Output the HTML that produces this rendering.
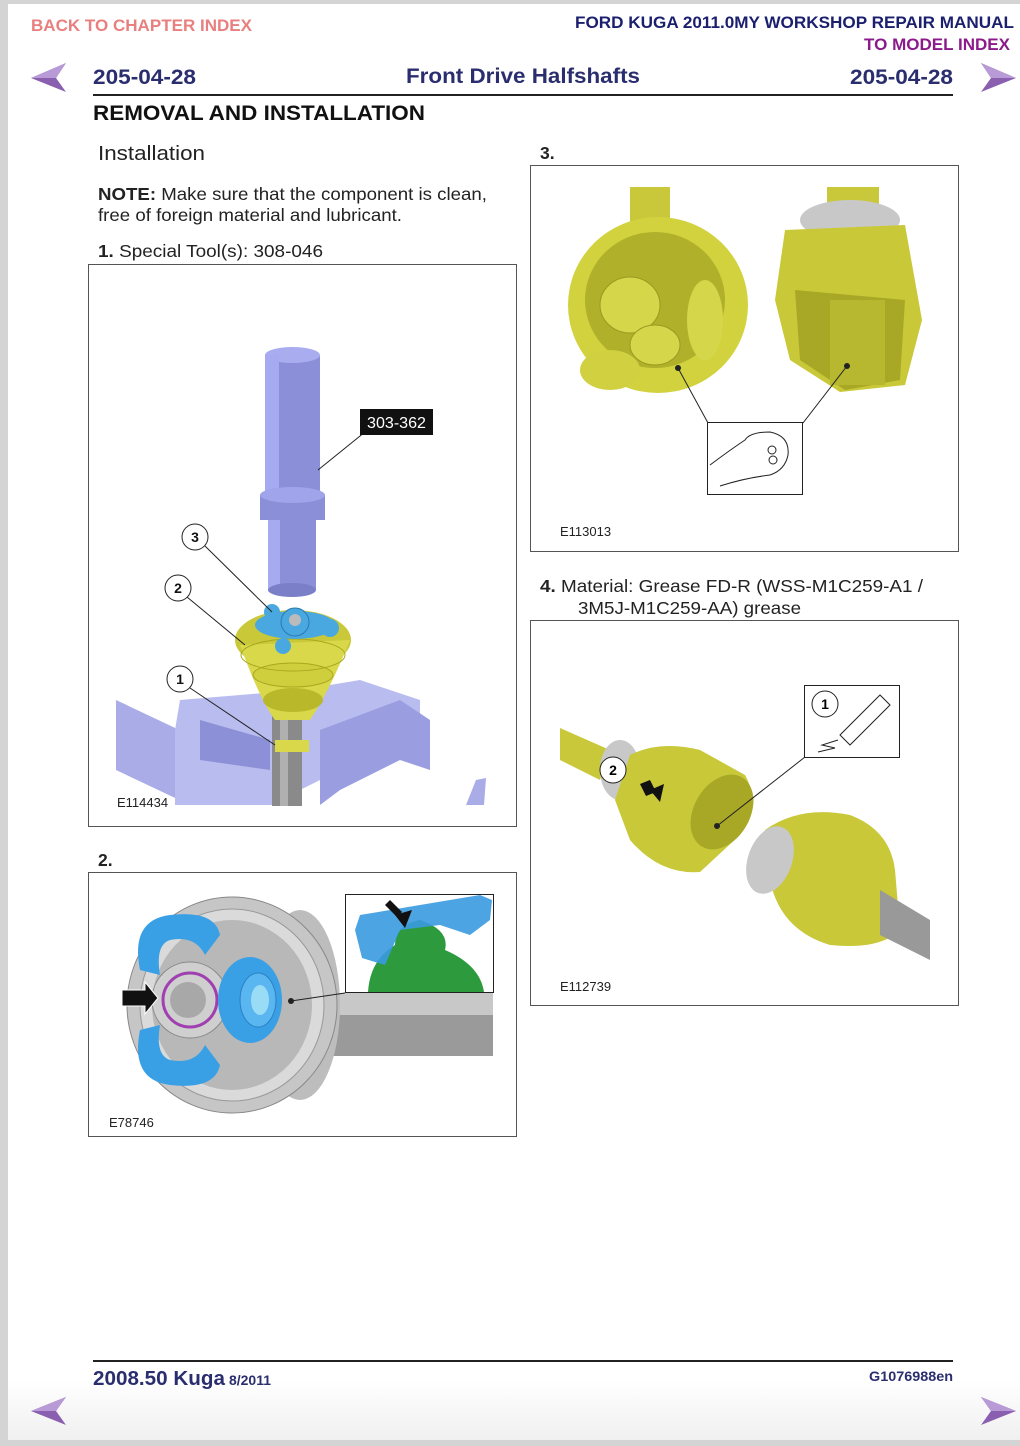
<!DOCTYPE html>
<html><head><meta charset="utf-8"><style>
html,body{margin:0;padding:0;background:#fff;}
svg{display:block}
text{font-family:"Liberation Sans",sans-serif;}
</style></head><body>
<svg width="1020" height="1446" viewBox="0 0 1020 1446" xmlns="http://www.w3.org/2000/svg">
<rect x="0" y="0" width="1020" height="1446" fill="#d4d4d4"/>
<rect x="8" y="4" width="1012" height="1436" fill="#fff"/>
<defs>
<linearGradient id="fade" x1="0" y1="0" x2="0" y2="1"><stop offset="0" stop-color="#fff"/><stop offset="1" stop-color="#f0f0f0"/></linearGradient>
</defs>
<rect x="8" y="1380" width="1012" height="60" fill="url(#fade)"/>

<!-- header -->
<text x="31" y="31" font-size="17" font-weight="bold" fill="#e8807f" textLength="221" lengthAdjust="spacingAndGlyphs">BACK TO CHAPTER INDEX</text>
<text x="575" y="28" font-size="17" font-weight="bold" fill="#1a1f6e" textLength="439" lengthAdjust="spacingAndGlyphs">FORD KUGA 2011.0MY WORKSHOP REPAIR MANUAL</text>
<text x="864" y="50" font-size="17" font-weight="bold" fill="#8b1a8b" textLength="146" lengthAdjust="spacingAndGlyphs">TO MODEL INDEX</text>

<polygon points="31,78 66,63 56,78 66,92" fill="#8a5fb0"/>
<polygon points="31,78 56,78 66,63" fill="#b89ad6"/>
<polygon points="1016,78 981,63 991,78 981,92" fill="#8a5fb0"/>
<polygon points="981,63 991,78 1016,78" fill="#b89ad6"/>

<text x="93" y="84" font-size="21" font-weight="bold" fill="#2a2e6e" textLength="103" lengthAdjust="spacingAndGlyphs">205-04-28</text>
<text x="406" y="83" font-size="21" font-weight="bold" fill="#2a2e6e" textLength="234" lengthAdjust="spacingAndGlyphs">Front Drive Halfshafts</text>
<text x="850" y="84" font-size="21" font-weight="bold" fill="#2a2e6e" textLength="103" lengthAdjust="spacingAndGlyphs">205-04-28</text>
<rect x="93" y="94" width="860" height="2" fill="#222"/>
<text x="93" y="120" font-size="21" font-weight="bold" fill="#111" textLength="332" lengthAdjust="spacingAndGlyphs">REMOVAL AND INSTALLATION</text>

<!-- left column text -->
<text x="98" y="160" font-size="20" fill="#222" textLength="107" lengthAdjust="spacingAndGlyphs">Installation</text>
<text x="98" y="200" font-size="17.5" fill="#222" textLength="389" lengthAdjust="spacingAndGlyphs"><tspan font-weight="bold">NOTE:</tspan> Make sure that the component is clean,</text>
<text x="98" y="221" font-size="17.5" fill="#222" textLength="304" lengthAdjust="spacingAndGlyphs">free of foreign material and lubricant.</text>
<text x="98" y="257" font-size="17.5" fill="#222" textLength="225" lengthAdjust="spacingAndGlyphs"><tspan font-weight="bold">1.</tspan> Special Tool(s): 308-046</text>

<!-- Box 1 -->
<rect x="88.5" y="264.5" width="428" height="562" fill="#fff" stroke="#555" stroke-width="1"/>
<!-- vise -->
<polygon points="116,700 190,735 190,805 116,770" fill="#a9ace6"/>
<polygon points="180,700 300,690 360,680 420,700 420,740 360,760 300,790 300,805 175,805 175,730" fill="#b9bcef"/>
<polygon points="200,720 270,740 270,770 200,760" fill="#8c90d6"/>
<polygon points="320,730 400,700 430,720 430,770 400,760 340,790 320,805" fill="#9a9ee0"/>
<polygon points="430,720 480,740 480,805 430,805" fill="#fff"/>
<polygon points="466,805 476,780 486,778 484,805" fill="#a9ace6"/>
<!-- shaft -->
<rect x="272" y="650" width="30" height="156" fill="#8a8a8a"/>
<rect x="280" y="650" width="8" height="156" fill="#b0b0b0"/>
<!-- boot -->
<ellipse cx="293" cy="640" rx="58" ry="30" fill="#c9c838"/>
<path d="M240,645 Q260,700 275,720 L310,720 Q330,690 350,640 Z" fill="#d8d84a"/>
<ellipse cx="293" cy="700" rx="30" ry="12" fill="#b8b82a"/>
<ellipse cx="293" cy="675" rx="40" ry="12" fill="#cfcf3e" stroke="#a8a820"/>
<ellipse cx="293" cy="655" rx="52" ry="16" fill="none" stroke="#a8a820"/>
<rect x="275" y="740" width="34" height="12" fill="#d8d84a"/>
<!-- tripod -->
<ellipse cx="295" cy="625" rx="40" ry="14" fill="#4aa8e0"/>
<circle cx="295" cy="622" r="14" fill="#4aa8e0" stroke="#2a7ab0"/>
<circle cx="295" cy="620" r="6" fill="#bbb"/>
<circle cx="272" cy="612" r="8" fill="#4aa8e0"/>
<circle cx="330" cy="628" r="9" fill="#4aa8e0"/>
<circle cx="283" cy="646" r="8" fill="#4aa8e0"/>
<!-- tool pin -->
<rect x="265" y="355" width="55" height="140" fill="#8a8fd8"/>
<ellipse cx="292.5" cy="355" rx="27.5" ry="8" fill="#a9adf0"/>
<rect x="265" y="355" width="14" height="140" fill="#a6aaf0"/>
<rect x="260" y="495" width="65" height="25" fill="#8a8fd8"/>
<ellipse cx="292.5" cy="495" rx="32.5" ry="8" fill="#a0a4ea"/>
<rect x="268" y="520" width="48" height="70" fill="#8a8fd8"/>
<rect x="268" y="520" width="12" height="70" fill="#a6aaf0"/>
<ellipse cx="292" cy="590" rx="24" ry="7" fill="#7a7fc8"/>
<!-- label -->
<line x1="318" y1="470" x2="365" y2="432" stroke="#222"/>
<rect x="360" y="409" width="73" height="26" fill="#111"/>
<text x="367" y="428" font-size="16" fill="#fff" textLength="59" lengthAdjust="spacingAndGlyphs">303-362</text>
<g stroke="#222" fill="#fff">
<line x1="205" y1="546" x2="272" y2="612"/>
<line x1="187" y1="597" x2="245" y2="645"/>
<line x1="190" y1="688" x2="275" y2="745"/>
<circle cx="195" cy="537" r="13"/>
<circle cx="178" cy="588" r="13"/>
<circle cx="180" cy="679" r="13"/>
</g>
<g font-size="14" font-weight="bold" fill="#111" text-anchor="middle">
<text x="195" y="542">3</text><text x="178" y="593">2</text><text x="180" y="684">1</text>
</g>
<text x="117" y="807" font-size="13" fill="#222">E114434</text>

<!-- Box 2 -->
<text x="98" y="866" font-size="17.5" font-weight="bold" fill="#222">2.</text>
<rect x="88.5" y="872.5" width="428" height="264" fill="#fff" stroke="#555" stroke-width="1"/>
<rect x="300" y="993" width="193" height="63" fill="#9a9a9a"/>
<rect x="300" y="993" width="193" height="22" fill="#c8c8c8"/>
<ellipse cx="300" cy="1005" rx="40" ry="95" fill="#bdbdbd"/>
<ellipse cx="232" cy="1005" rx="105" ry="108" fill="#c6c6c6" stroke="#888"/>
<ellipse cx="232" cy="1005" rx="92" ry="96" fill="#dadada" stroke="#999"/>
<ellipse cx="232" cy="1005" rx="80" ry="85" fill="#b8b8b8"/>
<circle cx="190" cy="1000" r="38" fill="#cfcfcf" stroke="#888"/>
<circle cx="190" cy="1000" r="27" fill="none" stroke="#a040b0" stroke-width="3"/>
<circle cx="188" cy="1000" r="18" fill="#a8a8a8"/>
<path d="M140,970 Q130,920 170,915 Q215,910 220,935 L205,955 Q195,935 170,940 Q155,945 160,975 Z" fill="#3aa0e6"/>
<path d="M140,1030 Q130,1080 170,1085 Q215,1090 220,1065 L205,1045 Q195,1065 170,1060 Q155,1055 160,1025 Z" fill="#3aa0e6"/>
<ellipse cx="250" cy="1000" rx="32" ry="43" fill="#3aa0e6"/>
<ellipse cx="258" cy="1000" rx="18" ry="27" fill="#5ab6f0" stroke="#2a80c0"/>
<ellipse cx="260" cy="1000" rx="9" ry="15" fill="#9adcf6"/>
<polygon points="122,990 145,990 145,982 158,998 145,1014 145,1006 122,1006" fill="#111" stroke="#fff"/>
<line x1="291" y1="1001" x2="345" y2="993" stroke="#222"/>
<circle cx="291" cy="1001" r="3" fill="#222"/>
<rect x="345.5" y="894.5" width="148" height="98" fill="#fff" stroke="#222"/>
<path d="M368,992 Q370,960 395,945 Q395,925 420,920 Q450,930 445,950 Q480,965 484,992 Z" fill="#2e9a3e"/>
<path d="M355,930 L360,915 L480,895 L492,900 L490,920 L470,935 L440,925 L400,930 L385,965 L362,958 Z" fill="#3a9ae0" opacity="0.9"/>
<polygon points="385,905 390,900 402,912 397,917" fill="#111"/>
<polygon points="395,915 412,910 405,928" fill="#111"/>
<text x="109" y="1127" font-size="13" fill="#222">E78746</text>

<!-- Box 3 -->
<text x="540" y="159" font-size="17.5" font-weight="bold" fill="#222">3.</text>
<rect x="530.5" y="165.5" width="428" height="386" fill="#fff" stroke="#555" stroke-width="1"/>
<rect x="630" y="187" width="40" height="50" fill="#c8c83a"/>
<ellipse cx="658" cy="305" rx="90" ry="88" fill="#d2d23e"/>
<ellipse cx="655" cy="300" rx="70" ry="68" fill="#b0b02a"/>
<ellipse cx="630" cy="305" rx="30" ry="28" fill="#d6d64a" stroke="#9a9a20"/>
<ellipse cx="655" cy="345" rx="25" ry="20" fill="#d6d64a" stroke="#9a9a20"/>
<ellipse cx="705" cy="320" rx="18" ry="40" fill="#d6d64a"/>
<ellipse cx="610" cy="370" rx="30" ry="20" fill="#d0d040"/>
<rect x="827" y="187" width="52" height="25" fill="#c8c83a"/>
<ellipse cx="850" cy="220" rx="50" ry="20" fill="#c8c8c8"/>
<path d="M785,230 L905,225 L922,320 L905,385 L840,392 L790,360 L775,300 Z" fill="#c8c838"/>
<path d="M795,290 L905,300 L900,380 L845,390 L800,360 Z" fill="#a8a826"/>
<rect x="830" y="300" width="55" height="85" fill="#b8b830"/>
<g stroke="#222" fill="none">
<line x1="678" y1="368" x2="708" y2="423"/>
<line x1="847" y1="366" x2="803" y2="423"/>
</g>
<circle cx="678" cy="368" r="3" fill="#222"/><circle cx="847" cy="366" r="3" fill="#222"/>
<rect x="707.5" y="422.5" width="95" height="72" fill="#fff" stroke="#222"/>
<path d="M710,465 Q730,450 745,440 Q750,432 770,432 Q790,436 788,455 Q785,470 770,475 Q745,478 720,486" fill="none" stroke="#222"/>
<circle cx="772" cy="450" r="4" fill="none" stroke="#222"/><circle cx="773" cy="460" r="4" fill="none" stroke="#222"/>
<text x="560" y="536" font-size="13" fill="#222">E113013</text>

<!-- Box 4 -->
<text x="540" y="592" font-size="17.5" fill="#222" textLength="383" lengthAdjust="spacingAndGlyphs"><tspan font-weight="bold">4.</tspan> Material: Grease FD-R (WSS-M1C259-A1 /</text>
<text x="578" y="614" font-size="17.5" fill="#222" textLength="223" lengthAdjust="spacingAndGlyphs">3M5J-M1C259-AA) grease</text>
<rect x="530.5" y="620.5" width="428" height="385" fill="#fff" stroke="#555" stroke-width="1"/>
<polygon points="560,728 610,750 600,780 560,760" fill="#c8c83a"/>
<ellipse cx="620" cy="770" rx="20" ry="30" fill="#c8c8c8"/>
<path d="M630,755 Q660,740 700,750 L745,775 Q760,800 740,835 L700,872 Q660,875 630,840 L615,800 Z" fill="#c8c838"/>
<ellipse cx="722" cy="812" rx="28" ry="40" fill="#a8a826" transform="rotate(30 722 812)"/>
<path d="M765,830 Q800,805 850,815 Q890,830 895,870 L900,930 Q880,950 830,945 Q780,930 770,880 Z" fill="#c8c838"/>
<ellipse cx="770" cy="860" rx="22" ry="35" fill="#c8c8c8" transform="rotate(20 770 860)"/>
<polygon points="880,890 930,920 930,960 880,935" fill="#999"/>
<polygon points="640,784 650,780 656,792 646,796" fill="#111"/>
<polygon points="650,790 664,784 660,802" fill="#111"/>
<line x1="717" y1="826" x2="805" y2="757" stroke="#222"/>
<circle cx="717" cy="826" r="3" fill="#222"/>
<rect x="804.5" y="685.5" width="95" height="72" fill="#fff" stroke="#222"/>
<path d="M840,735 L880,695 L890,705 L850,745 Z" fill="none" stroke="#222"/>
<path d="M818,752 L835,748 L822,745 L838,740" fill="none" stroke="#222"/>
<circle cx="825" cy="704" r="13" fill="#fff" stroke="#222"/>
<text x="825" y="709" font-size="14" font-weight="bold" text-anchor="middle">1</text>
<circle cx="613" cy="770" r="13" fill="#fff" stroke="#222"/>
<text x="613" y="775" font-size="14" font-weight="bold" text-anchor="middle">2</text>
<text x="560" y="991" font-size="13" fill="#222">E112739</text>

<!-- footer -->
<rect x="93" y="1360" width="860" height="2" fill="#222"/>
<text x="93" y="1385" font-size="20" font-weight="bold" fill="#2a2e6e" textLength="132" lengthAdjust="spacingAndGlyphs">2008.50 Kuga</text>
<text x="229" y="1385" font-size="14" font-weight="bold" fill="#2a2e6e" textLength="42" lengthAdjust="spacingAndGlyphs">8/2011</text>
<text x="869" y="1381" font-size="14" font-weight="bold" fill="#2a2e6e" textLength="84" lengthAdjust="spacingAndGlyphs">G1076988en</text>
<polygon points="31,1411 66,1397 56,1411 66,1425" fill="#8a5fb0"/>
<polygon points="31,1411 56,1411 66,1397" fill="#b89ad6"/>
<polygon points="1016,1411 981,1397 991,1411 981,1425" fill="#8a5fb0"/>
<polygon points="981,1397 991,1411 1016,1411" fill="#b89ad6"/>
</svg>
</body></html>
